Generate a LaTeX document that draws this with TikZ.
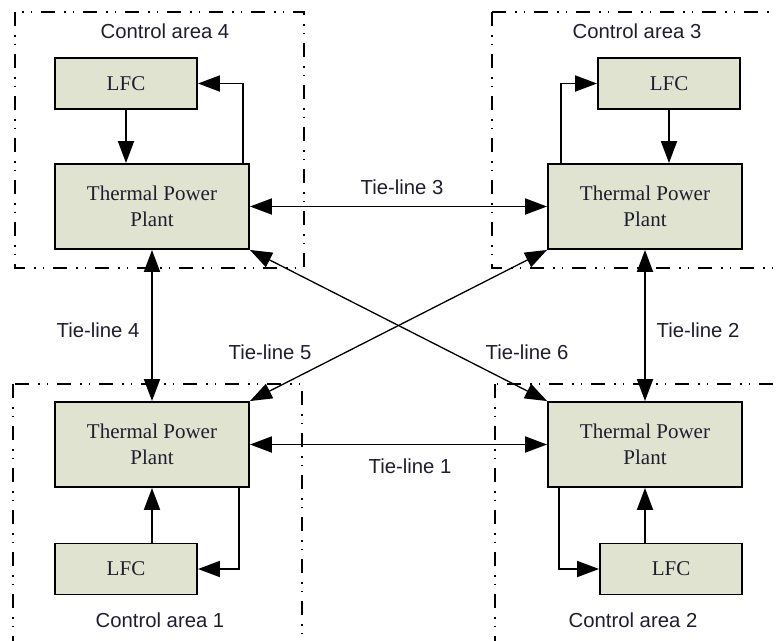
\documentclass[tikz,border=0pt]{standalone}
\usepackage{fontspec}
\setmainfont{Liberation Serif}
\setsansfont{Liberation Sans}
\usetikzlibrary{arrows.meta,calc}
\definecolor{boxfill}{RGB}{223,227,208}
\definecolor{txt}{RGB}{30,30,45}
\begin{document}
\begin{tikzpicture}[x=1pt,y=-1pt,
  blk/.style={draw=black,line width=1.9pt,fill=boxfill,align=center,
    font=\fontsize{21}{25.5}\selectfont\rmfamily,text=txt,inner sep=0pt},
  lfc/.style={blk,minimum width=142pt,minimum height=51pt},
  tpp/.style={blk,minimum width=194pt,minimum height=85pt},
  lbl/.style={font=\fontsize{20.3}{24}\selectfont\sffamily,text=txt,inner sep=0pt},
  area/.style={line width=1.5pt,dash pattern=on 14pt off 9pt on 1.5pt off 7pt on 1.5pt off 9pt},
  tip/.style={},
  arr/.style={line width=1.9pt,-{Triangle[length=22pt,width=16pt]}},
  tie/.style={line width=1.9pt,{Triangle[length=22pt,width=16pt]}-{Triangle[length=22pt,width=16pt]}},
  diag/.style={line width=1.3pt,{Triangle[length=22pt,width=16pt]}-{Triangle[length=22pt,width=16pt]}}]
\useasboundingbox (0,0) rectangle (776,640);
\clip (0,0) rectangle (776,640);
% control area frames
\draw[area] (15,12) rectangle (304,268);
\draw[area] (492,12) rectangle (810,268);
\draw[area] (13,384) rectangle (302,670);
\draw[area] (495,384) rectangle (810,670);
% blocks
\node[lfc] (LFC4) at (126,83.5) {LFC};
\node[tpp] (TPP4) at (152,206.5) {Thermal Power\\Plant};
\node[lfc] (LFC3) at (669,83.5) {LFC};
\node[tpp] (TPP3) at (645,206.5) {Thermal Power\\Plant};
\node[tpp] (TPP1) at (152,444.5) {Thermal Power\\Plant};
\node[lfc] (LFC1) at (126,569) {LFC};
\node[tpp] (TPP2) at (645,444.5) {Thermal Power\\Plant};
\node[lfc] (LFC2) at (671,569) {LFC};
% labels
\node[lbl] (ca4) at (165,31) {Control area 4};
\node[lbl] (ca3) at (637,31) {Control area 3};
\node[lbl] (ca1) at (160,620) {Control area 1};
\node[lbl] (ca2) at (633,620) {Control area 2};
\node[lbl] (t3) at (402,187) {Tie-line 3};
\node[lbl] (t1) at (410,466) {Tie-line 1};
\node[lbl] (t4) at (98,330) {Tie-line 4};
\node[lbl] (t2) at (698,330) {Tie-line 2};
\node[lbl] (t5) at (270,352) {Tie-line 5};
\node[lbl] (t6) at (527,352) {Tie-line 6};
% local loops
\draw[arr] (LFC4.south) -- (LFC4.south |- TPP4.north);
\draw[arr] ([xshift=-7pt]TPP4.north east) |- (LFC4.east);
\draw[arr] (LFC3.south) -- (LFC3.south |- TPP3.north);
\draw[arr] ([xshift=14pt]TPP3.north west) |- (LFC3.west);
\draw[arr] (LFC1.north -| TPP1.south) -- (TPP1.south);
\draw[arr] ([xshift=-11pt]TPP1.south east) |- (LFC1.east);
\draw[arr] (LFC2.north -| TPP2.south) -- (TPP2.south);
\draw[arr] ([xshift=12pt]TPP2.south west) |- (LFC2.west);
% tie-lines
\draw[tie] (TPP4.east) -- (TPP3.west);
\draw[tie] (TPP1.east) -- (TPP2.west);
\draw[tie] (TPP4.south) -- (TPP1.north);
\draw[tie] (TPP3.south) -- (TPP2.north);
\draw[diag] (TPP1.north east) -- (TPP3.south west);
\draw[diag] (TPP4.south east) -- (TPP2.north west);
\end{tikzpicture}
\end{document}
